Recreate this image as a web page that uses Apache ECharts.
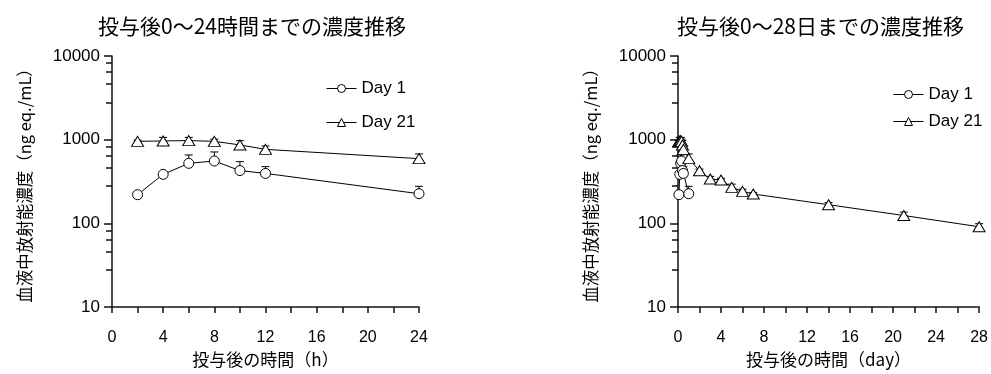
<!DOCTYPE html>
<html>
<head>
<meta charset="utf-8">
<script src="https://cdn.jsdelivr.net/npm/echarts@6/dist/echarts.min.js"></script>
<style>
  html, body { margin: 0; padding: 0; background: #fff; }
  #chart { width: 991px; height: 374px; }
</style>
</head>
<body>
<div id="chart"></div>
<script>
// Sampling times
const hoursDay1 = [2, 4, 6, 8, 10, 12, 24];
const hoursDay21 = [2, 4, 6, 8, 10, 12, 24];
const daysDay1 = [0.083, 0.167, 0.25, 0.333, 0.417, 0.5, 1];
const daysDay21 = [0.083, 0.167, 0.25, 0.333, 0.417, 0.5, 1, 2, 3, 4, 5, 6, 7, 14, 21, 28];

// Mean concentrations (ng eq./mL) and SD
const meanDay1 = [220, 385, 521, 556, 427, 395, 226];
const sdDay1 = [15, 30, 135, 157, 119, 81, 51];
const meanDay21 = [955, 965, 975, 955, 865, 766, 593, 425, 339, 330, 269, 241, 224, 167, 124, 91];
const sdDay21 = [30, 100, 90, 60, 108, 75, 82, 20, 25, 15, 25, 15, 10, 10, 12, 8];

// Axis labels
const seriesNames = ['Day 1', 'Day 21'];
const titleHours = '投与後0〜24時間までの濃度推移';
const titleDays = '投与後0〜28日までの濃度推移';
const xNameHours = '投与後の時間（h）';
const xNameDays = '投与後の時間（day）';
const yName = '血液中放射能濃度（ng eq./mL）';

const latin = "'Liberation Sans', Arial, 'Noto Sans CJK JP', sans-serif";
const cjk = "'Noto Sans CJK JP', sans-serif";
const ink = '#000';
const axisInk = '#111';

function pairs(xs, ys) { return xs.map((x, i) => [x, ys[i]]); }
function triples(xs, ys, sds) { return xs.map((x, i) => [x, ys[i], sds[i]]); }

// Upper error bar with a short cap
function errorBar(params, api) {
  const x = api.value(0), m = api.value(1), s = api.value(2);
  const p0 = api.coord([x, m]);
  const p1 = api.coord([x, m + s]);
  const cap = 4;
  return {
    type: 'group',
    children: [
      { type: 'line', shape: { x1: p0[0], y1: p0[1], x2: p1[0], y2: p1[1] }, style: { stroke: ink, lineWidth: 1 } },
      { type: 'line', shape: { x1: p1[0] - cap, y1: p1[1], x2: p1[0] + cap, y2: p1[1] }, style: { stroke: ink, lineWidth: 1 } }
    ]
  };
}

function xAxis(gridIndex, max, name) {
  return {
    type: 'value', gridIndex, min: 0, max, interval: 4,
    name, nameLocation: 'middle', nameGap: 42,
    nameTextStyle: { fontFamily: cjk, fontSize: 17, color: ink },
    axisLine: { lineStyle: { color: axisInk, width: 1.5 } },
    axisTick: { length: 6, lineStyle: { color: axisInk, width: 1.5 } },
    minorTick: { show: true, splitNumber: 2, length: 6, lineStyle: { color: axisInk, width: 1.5 } },
    axisLabel: { margin: 23, fontFamily: latin, fontSize: 16, color: ink },
    splitLine: { show: false }
  };
}

function yAxis(gridIndex) {
  return {
    type: 'log', logBase: 10, gridIndex, min: 10, max: 10000,
    name: yName, nameLocation: 'middle', nameGap: 79, nameRotate: 90,
    nameTextStyle: { fontFamily: cjk, fontSize: 16.5, color: ink },
    axisLine: { show: true, lineStyle: { color: axisInk, width: 1.5 } },
    axisTick: { show: true, length: 8, lineStyle: { color: axisInk, width: 1.5 } },
    minorTick: { show: true, length: 6, lineStyle: { color: axisInk, width: 1.5 } },
    axisLabel: { margin: 12, fontFamily: latin, fontSize: 17, color: ink, formatter: v => String(v) },
    splitLine: { show: false },
    minorSplitLine: { show: false }
  };
}

const circle = { symbol: 'circle', symbolSize: 10 };
const triangle = { symbol: 'triangle', symbolSize: [12, 10] };

function lineSeries(name, idx, data, shape) {
  return Object.assign({
    name, type: 'line', xAxisIndex: idx, yAxisIndex: idx, data,
    showAllSymbol: true, z: 3,
    lineStyle: { color: ink, width: 1 },
    itemStyle: { color: '#fff', borderColor: ink, borderWidth: 1 },
    emphasis: { disabled: true }
  }, shape);
}

function barSeries(idx, data) {
  return { type: 'custom', xAxisIndex: idx, yAxisIndex: idx, data, renderItem: errorBar, z: 2, silent: true };
}

const legendBase = {
  orient: 'vertical', itemWidth: 30, itemHeight: 10,
  itemStyle: { borderWidth: 1 },
  lineStyle: { width: 1 },
  textStyle: { fontFamily: latin, fontSize: 17, color: ink },
  data: seriesNames
};

const option = {
  animation: false,
  backgroundColor: '#fff',
  title: [
    { text: titleHours, left: 98, top: 16, padding: 0, textStyle: { fontFamily: cjk, fontSize: 21, fontWeight: 'normal', color: ink } },
    { text: titleDays, left: 677, top: 16, padding: 0, textStyle: { fontFamily: cjk, fontSize: 21, fontWeight: 'normal', color: ink } }
  ],
  legend: [
    Object.assign({}, legendBase, { left: 326, top: 80, itemGap: 17, padding: 0 }),
    Object.assign({}, legendBase, { left: 893, top: 86, itemGap: 10, padding: 0 })
  ],
  grid: [
    { left: 112, top: 56, width: 307, height: 251 },
    { left: 678, top: 56, width: 307, height: 251 }
  ],
  xAxis: [xAxis(0, 24, xNameHours), xAxis(1, 28, xNameDays)],
  yAxis: [yAxis(0), yAxis(1)],
  series: [
    barSeries(0, triples(hoursDay1, meanDay1, sdDay1)),
    barSeries(0, triples(hoursDay21, meanDay21.slice(0, 7), sdDay21.slice(0, 7))),
    barSeries(1, triples(daysDay1, meanDay1, sdDay1)),
    barSeries(1, triples(daysDay21, meanDay21, sdDay21)),
    lineSeries('Day 1', 0, pairs(hoursDay1, meanDay1), circle),
    lineSeries('Day 21', 0, pairs(hoursDay21, meanDay21.slice(0, 7)), triangle),
    lineSeries('Day 1', 1, pairs(daysDay1, meanDay1), circle),
    lineSeries('Day 21', 1, pairs(daysDay21, meanDay21), triangle)
  ]
};

const chart = echarts.init(document.getElementById('chart'), null, { renderer: 'canvas' });
chart.setOption(option);
</script>
</body>
</html>
